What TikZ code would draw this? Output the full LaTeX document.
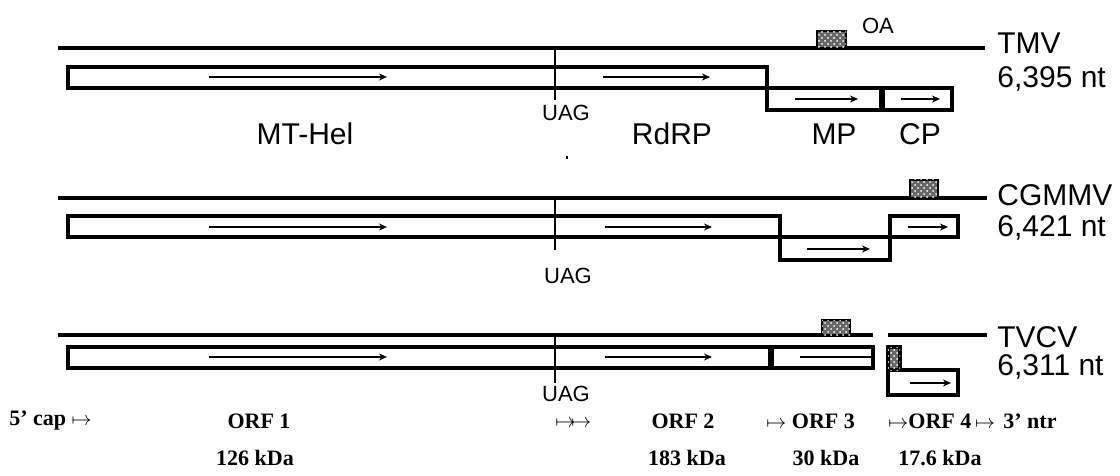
\documentclass[tikz,border=0pt]{standalone}
\usepackage{fontspec}
\setmainfont{Liberation Serif}
\newfontfamily\labelfont{Liberation Sans}
\usepackage{tikz}
\usetikzlibrary{arrows.meta,positioning,patterns}
\newcommand{\orfmark}{{\fontsize{10}{10}\selectfont$\mapsto$}}
\tikzset{
  genome/.style={line width=2pt},
  orf/.style={draw, line width=1.9pt, fill=white},
  orfline/.style={line width=0.6pt},
  orfarrow/.style={orfline, -{Stealth[length=4pt,width=3.5pt]}},
  oabox/.style={draw, line width=0.8pt, fill=black!60, postaction={pattern=crosshatch dots, pattern color=white}},
  uagline/.style={line width=0.9pt},
  divider/.style={line width=3pt},
  virus/.style={font=\labelfont\fontsize{15}{16}\selectfont, anchor=west, inner sep=0pt},
  protname/.style={font=\labelfont\fontsize{15}{16}\selectfont, inner sep=0pt},
  stopcodon/.style={font=\labelfont\fontsize{11}{12}\selectfont, inner sep=0pt},
  orflabel/.style={font=\bfseries\fontsize{11}{12}\selectfont, inner sep=0pt}
}

\begin{document}
\begin{tikzpicture}[x=0.5pt, y=-0.5pt]
  \useasboundingbox (0,0) rectangle (1120,476);

  % TMV
  \draw[genome] (58,48) -- (985,48);
  \draw[oabox] (817,31) rectangle (846,48);
  \node[stopcodon] (oa) at (878,26) {OA};
  \draw[orf] (68,67) rectangle (767,88);
  \draw[orf] (767,88) rectangle (952,110);
  \draw[divider] (882,88) -- (882,110);
  \draw[uagline] (555,48) -- (555,100);
  \draw[orfarrow] (209,77) -- (387,77);
  \draw[orfarrow] (603,77) -- (710,77);
  \draw[orfarrow] (795,99) -- (858,99);
  \draw[orfarrow] (901,99) -- (940,99);
  \node[stopcodon] (uag1) at (566,113) {UAG};
  \node[protname] (mthel) at (305,134) {MT-Hel};
  \node[protname] (rdrp) at (672,134) {RdRP};
  \node[protname] (mp) at (834,134) {MP};
  \node[protname] (cp) at (920,134) {CP};
  \node[virus] (tmv) at (997,43) {TMV};
  \node[virus] (tmvnt) at (997,79) {6,395 nt};
  \fill (566,156) rectangle (568,159);

  % CGMMV
  \draw[genome] (58,198) -- (987,198);
  \draw[oabox] (910,180) rectangle (938,198);
  \draw[orf] (68,216) rectangle (780,237);
  \draw[orf] (780,237) rectangle (890,260);
  \draw[orf] (890,216) rectangle (958,237);
  \draw[uagline] (555,198) -- (555,250);
  \draw[orfarrow] (209,227) -- (387,227);
  \draw[orfarrow] (605,227) -- (712,227);
  \draw[orfarrow] (807,249) -- (870,249);
  \draw[orfarrow] (908,227) -- (948,227);
  \node[stopcodon] (uag2) at (568,276) {UAG};
  \node[virus] (cgmmv) at (997,195) {CGMMV};
  \node[virus] (cgmmvnt) at (997,228) {6,421 nt};

  % TVCV
  \draw[genome] (58,335) -- (873,335);
  \draw[genome] (888,335) -- (987,335);
  \draw[oabox] (822,320) rectangle (850,335);
  \draw[orf] (68,347) rectangle (873,368);
  \draw[divider] (771,347) -- (771,368);
  \draw[orfline] (800,357) -- (873,357);
  \draw[orf] (888,370) rectangle (958,395);
  \draw[orf, fill=black!60, postaction={pattern=crosshatch dots, pattern color=white}] (888,347) rectangle (900,370);
  \draw[uagline] (555,335) -- (555,383);
  \draw[orfarrow] (209,357) -- (387,357);
  \draw[orfarrow] (605,357) -- (712,357);
  \draw[orfarrow] (910,383) -- (951,383);
  \node[stopcodon] (uag3) at (566,394) {UAG};
  \node[virus] (tvcv) at (997,337) {TVCV};
  \node[virus] (tvcvnt) at (997,367) {6,311 nt};

  % ORF map
  \node[orflabel, anchor=west] (cap) at (9,421) {5’ cap \orfmark};
  \node[orflabel] (orf1) at (259,421) {ORF 1};
  \node[orflabel] (kda1) at (255,458) {126 kDa};
  \node[orflabel, anchor=west] (stop) at (555,424) {\orfmark\hspace{-2pt}\orfmark};
  \node[orflabel] (orf2) at (683,421) {ORF 2};
  \node[orflabel] (kda2) at (687,458) {183 kDa};
  \node[orflabel, anchor=west] (orf3) at (766,421) {\orfmark{} ORF 3};
  \node[orflabel] (kda3) at (826,458) {30 kDa};
  \node[orflabel, anchor=west] (orf4) at (888,421) {\orfmark ORF 4\,\orfmark};
  \node[orflabel, anchor=west] (ntr) at (1003,421) {3’ ntr};
  \node[orflabel] (kda4) at (940,458) {17.6 kDa};
\end{tikzpicture}
\end{document}
